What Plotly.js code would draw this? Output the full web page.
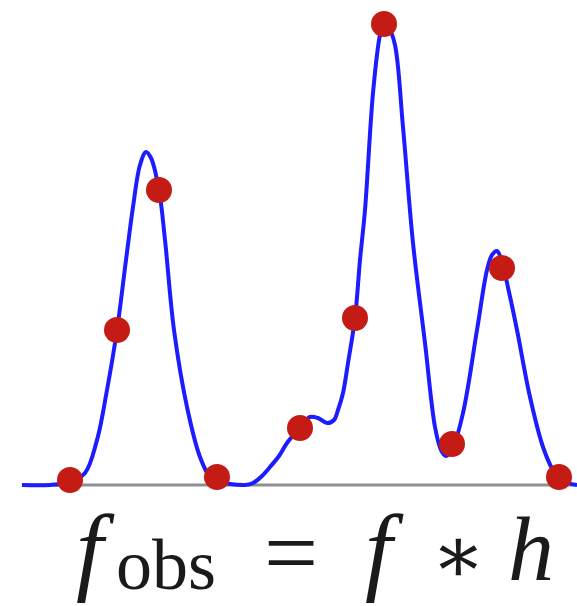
<!DOCTYPE html>
<html>
<head>
<meta charset="utf-8">
<script src="https://cdn.plot.ly/plotly-3.0.1.min.js"></script>
<style>
  html, body { margin: 0; padding: 0; background: #ffffff; }
  #plot { width: 577px; height: 606px; }
</style>
</head>
<body>
<div id="plot"></div>
<script>
// Observed signal: smooth blurred profile (position, height above baseline)
const curveX = [22, 50, 70, 85, 97, 107, 117, 126, 133, 140, 146, 151, 159, 165, 174, 187, 200, 210, 217, 230,
                245, 253, 262, 270, 279, 287, 300, 310, 318, 327, 334, 338, 343, 348, 355, 360, 365, 373, 380, 384,
                389, 395, 403, 413, 425, 435, 441, 446, 452, 463, 477, 487, 492, 497, 502, 509, 517, 530, 543, 553,
                559, 568, 577];
const curveY = [0, 0, 3, 12, 45, 95, 155, 225, 278, 320, 333, 327, 295, 245, 155, 78, 28, 8, 4, 1,
                0, 2, 9, 18, 29, 42, 57, 68, 67, 62, 65, 75, 92, 122, 167, 225, 275, 392, 450, 462,
                457, 440, 358, 242, 142, 58, 35, 29, 35, 72, 155, 215, 230, 234, 223, 193, 155, 88, 38, 15,
                8, 2, 0];

// Discrete samples taken along the profile
const sampleX = [70, 117, 159, 217, 300, 355, 384, 452, 502, 559];
const sampleY = [5, 155, 295, 8, 57, 167, 461, 41, 217, 8];

const blue = '#1c1cff';
const red = '#c41b14';

const traces = [
  {
    x: curveX, y: curveY, type: 'scatter', mode: 'lines',
    line: { color: blue, width: 4, shape: 'spline', smoothing: 1 },
    hoverinfo: 'skip'
  },
  {
    x: sampleX, y: sampleY, type: 'scatter', mode: 'markers',
    marker: { color: red, size: 26, line: { width: 0 } },
    hoverinfo: 'skip'
  }
];

const serif = 'Liberation Serif, DejaVu Serif, serif';
// One piece of the formula, centred on (x, y)
function term(text, x, y, size, italic) {
  return {
    text: italic ? '<i>' + text + '</i>' : text,
    x: x, y: y, xref: 'x', yref: 'y',
    xanchor: 'center', yanchor: 'middle',
    showarrow: false,
    font: { family: serif, size: size, color: '#1a1a1a' }
  };
}

const layout = {
  width: 577, height: 606,
  margin: { l: 0, r: 0, t: 0, b: 0, pad: 0 },
  paper_bgcolor: '#ffffff', plot_bgcolor: '#ffffff',
  showlegend: false,
  xaxis: { range: [0, 577], visible: false, fixedrange: true },
  yaxis: { range: [-121, 485], visible: false, fixedrange: true },
  shapes: [
    { type: 'line', xref: 'x', yref: 'y', x0: 22, x1: 577, y0: 0, y1: 0,
      line: { color: '#8f8f8f', width: 3 }, layer: 'below' }
  ],
  annotations: [
    term('f', 95, -64, 98, true),
    term('obs', 166, -80, 72, false),
    term('=', 291, -67, 96, false),
    term('f', 384, -64, 98, true),
    term('\u2217', 458, -70, 80, false),
    term('h', 531, -64, 92, true)
  ]
};

Plotly.newPlot('plot', traces, layout, { displayModeBar: false, staticPlot: true });
</script>
</body>
</html>
